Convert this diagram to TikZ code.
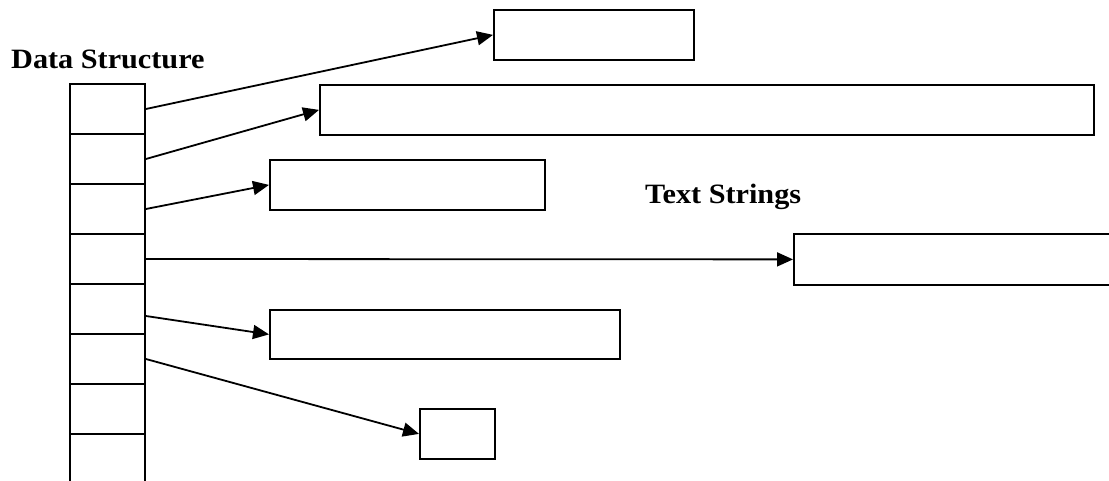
\documentclass[tikz,border=0pt]{standalone}
\usepackage{fontspec}
\newfontfamily\labelfont{Liberation Serif}[FakeStretch=1.08]
\usetikzlibrary{arrows.meta}

\tikzset{
    cell/.style={draw, line width=1.8pt, inner sep=0pt, minimum width=75pt, minimum height=50pt},
    strbox/.style={draw, line width=1.8pt, inner sep=0pt, anchor=north west, minimum height=50pt},
    ptr/.style={line width=1.8pt, -{Triangle[length=16pt,width=14pt]}},
    heading/.style={inner sep=0pt, anchor=base west, font=\labelfont\bfseries\fontsize{28}{32}\selectfont}
}

\begin{document}
\begin{tikzpicture}[x=1pt, y=-1pt]
    \clip (0,0) rectangle (1109,481);

    % the array of slots
    \foreach \i in {1,...,8}
        \node[cell] (c\i) at (107.5,{59+50*\i}) {};

    % the strings it points to
    \node[strbox, minimum width=200pt] (s1) at (493,9) {};
    \node[strbox, minimum width=774pt] (s2) at (319,84) {};
    \node[strbox, minimum width=275pt] (s3) at (269,159) {};
    \node[strbox, minimum width=340pt, minimum height=51pt] (s4) at (793,233) {};
    \node[strbox, minimum width=350pt, minimum height=49pt] (s5) at (269,309) {};
    \node[strbox, minimum width=75pt] (s6) at (419,408) {};

    \draw[ptr] (c1.east) -- (s1.west);
    \draw[ptr] (c2.east) -- (s2.west);
    \draw[ptr] (c3.east) -- (s3.west);
    \draw[ptr] (c4.east) -- (s4.west);
    \draw[ptr] ([yshift=-7pt]c5.east) -- (s5.west);
    \draw[ptr] (c6.east) -- (s6.west);

    \node[heading] (ds) at (11,69) {Data Structure};
    \node[heading] (ts) at (645,204) {Text Strings};
\end{tikzpicture}
\end{document}
